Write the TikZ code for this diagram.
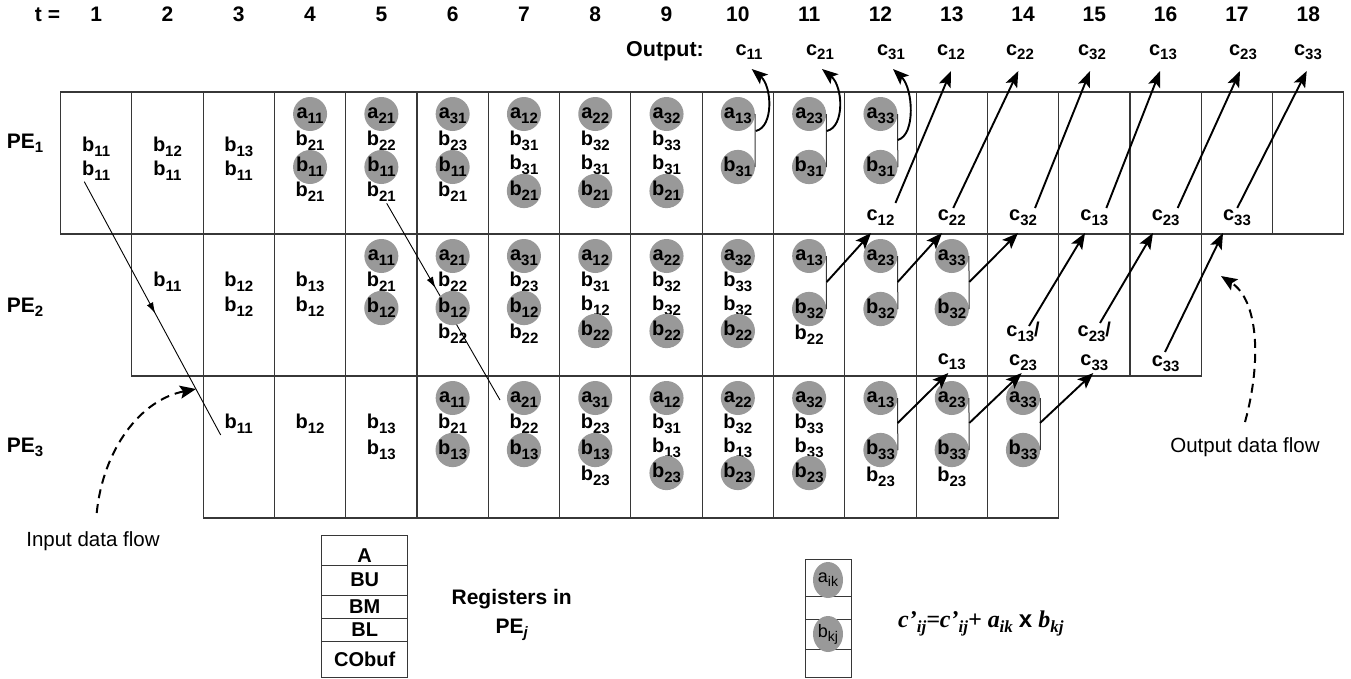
\documentclass[tikz,border=0pt]{standalone}
\usepackage{fontspec}
\setmainfont{Liberation Sans}
\newfontfamily\timesfont{Liberation Serif}
\usetikzlibrary{arrows.meta,decorations.markings}
\definecolor{circgray}{RGB}{153,153,153}
\definecolor{gridgray}{RGB}{55,55,55}
\newcommand{\sbx}[1]{\raisebox{-4.5pt}{\fontsize{15}{16}\selectfont #1}}
\newcommand{\fsub}[1]{\raisebox{-5pt}{\fontsize{17}{18}\selectfont #1}}
\newcommand{\colx}[1]{24.85+71.3*#1}
\newcommand{\tcell}[4]{\node[cell] (#1) at ({\colx{#2}},#3) {#4};}
\newcommand{\ccell}[4]{\node[circ] (#1) at ({\colx{#2}},#3) {#4};}
\newcommand{\bv}[1]{b\sbx{#1}}
\newcommand{\av}[1]{a\sbx{#1}}
\newcommand{\cv}[1]{c\sbx{#1}}
\tikzset{
  cell/.style={inner sep=0pt, text height=14pt, text depth=4.5pt, font=\fontsize{20}{22}\selectfont\bfseries},
  circ/.style={cell, circle, fill=circgray, minimum size=34pt},
  gridline/.style={draw=gridgray, line width=1.1pt},
  lbl/.style={inner sep=0pt, anchor=base, font=\fontsize{21}{23}\selectfont\bfseries},
  olbl/.style={inner sep=0pt, anchor=base, font=\fontsize{20}{22}\selectfont\bfseries},
  bigarrow/.style={draw=black, line width=1.9pt, -{Stealth[length=16pt,width=12.5pt,inset=3.5pt]}},
  bracket/.style={draw=gridgray, line width=1pt},
  thinarrow/.style={draw=black, line width=0.9pt, postaction={decorate}},
  flowarrow/.style={draw=black, line width=2pt, dash pattern=on 9pt off 6pt, -{Stealth[length=16pt,width=13pt,inset=3pt]}},
  flowtext/.style={inner sep=0pt, font=\fontsize{20.5}{24}\selectfont},
  regbox/.style={draw=gridgray, line width=1pt, minimum width=86pt, inner sep=0pt, font=\fontsize{20}{22}\selectfont\bfseries},
  smallbox/.style={draw=gridgray, line width=1pt, minimum width=46pt, inner sep=0pt},
  smallcirc/.style={ellipse, fill=circgray, minimum width=30pt, minimum height=36pt, inner sep=0pt, font=\fontsize{18}{20}\selectfont},
}
\usetikzlibrary{shapes.geometric}
\begin{document}
\begin{tikzpicture}[x=1pt,y=-1pt]
\useasboundingbox (0,0) rectangle (1351,678);
% ---------- grid ----------
\draw[gridline] (60.5,92) rectangle (1343.9,234);
\draw[gridline] (131.8,234) rectangle (1201.3,376);
\draw[gridline] (203.1,376) rectangle (1058.7,518);
\foreach \k in {1,...,17} {\draw[gridline] ({60.5+71.3*\k},92) -- ({60.5+71.3*\k},234);}
\foreach \k in {2,...,15} {\draw[gridline] ({60.5+71.3*\k},234) -- ({60.5+71.3*\k},376);}
\foreach \k in {3,...,13} {\draw[gridline] ({60.5+71.3*\k},376) -- ({60.5+71.3*\k},518);}
% ---------- header ----------
\node[lbl] (tlab) at (47.5,21.7) {t =};
\foreach \k in {1,...,18} {\node[lbl] (h\k) at ({\colx{\k}},21.7) {\k};}
\node[lbl] (pe1) at (25,148) {PE\sbx{1}};
\node[lbl] (pe2) at (25,312) {PE\sbx{2}};
\node[lbl] (pe3) at (25,452) {PE\sbx{3}};
\node[lbl, font=\fontsize{21.5}{23}\selectfont\bfseries] (outlab) at (665,56) {Output:};
\node[olbl] (o11) at (749,55) {\cv{11}};
\node[olbl] (o21) at (820,55) {\cv{21}};
\node[olbl] (o31) at (891,55) {\cv{31}};
\node[olbl] (o12) at (951,55) {\cv{12}};
\node[olbl] (o22) at (1020,55) {\cv{22}};
\node[olbl] (o32) at (1092,55) {\cv{32}};
\node[olbl] (o13) at (1163,55) {\cv{13}};
\node[olbl] (o23) at (1243,55) {\cv{23}};
\node[olbl] (o33) at (1308,55) {\cv{33}};
% ---------- input data lines ----------
\coordinate (in1s) at (84.3,181.7); \coordinate (in1e) at (220.7,435);
\coordinate (in2s) at (386.7,203.3); \coordinate (in2e) at (500,400);
\draw[thinarrow, decoration={markings, mark=at position 0.52 with {\arrow{Latex[length=11pt,width=7pt]}}}] (in1s) -- (in1e);
\draw[thinarrow, decoration={markings, mark=at position 0.43 with {\arrow{Latex[length=11pt,width=7pt]}}}] (in2s) -- (in2e);
% ---------- PE1 ----------
\tcell{p1k1s2}{1}{147}{\bv{11}}
\tcell{p1k1s3}{1}{171}{\bv{11}}
\tcell{p1k2s2}{2}{147}{\bv{12}}
\tcell{p1k2s3}{2}{171}{\bv{11}}
\tcell{p1k3s2}{3}{147}{\bv{13}}
\tcell{p1k3s3}{3}{171}{\bv{11}}
\ccell{p1k4s1}{4}{114}{\av{11}} \tcell{p1k4s2}{4}{141}{\bv{21}} \ccell{p1k4s3}{4}{167}{\bv{11}} \tcell{p1k4s4}{4}{192}{\bv{21}}
\ccell{p1k5s1}{5}{114}{\av{21}} \tcell{p1k5s2}{5}{141}{\bv{22}} \ccell{p1k5s3}{5}{167}{\bv{11}} \tcell{p1k5s4}{5}{192}{\bv{21}}
\ccell{p1k6s1}{6}{114}{\av{31}} \tcell{p1k6s2}{6}{141}{\bv{23}} \ccell{p1k6s3}{6}{167}{\bv{11}} \tcell{p1k6s4}{6}{192}{\bv{21}}
\ccell{p1k7s1}{7}{114}{\av{12}} \tcell{p1k7s2}{7}{141}{\bv{31}} \tcell{p1k7s3}{7}{165}{\bv{31}} \ccell{p1k7s4}{7}{191}{\bv{21}}
\ccell{p1k8s1}{8}{114}{\av{22}} \tcell{p1k8s2}{8}{141}{\bv{32}} \tcell{p1k8s3}{8}{165}{\bv{31}} \ccell{p1k8s4}{8}{191}{\bv{21}}
\ccell{p1k9s1}{9}{114}{\av{32}} \tcell{p1k9s2}{9}{141}{\bv{33}} \tcell{p1k9s3}{9}{165}{\bv{31}} \ccell{p1k9s4}{9}{191}{\bv{21}}
\ccell{p1k10s1}{10}{114}{\av{13}} \ccell{p1k10s3}{10}{167}{\bv{31}}
\ccell{p1k11s1}{11}{114}{\av{23}} \ccell{p1k11s3}{11}{167}{\bv{31}}
\ccell{p1k12s1}{12}{114}{\av{33}} \ccell{p1k12s3}{12}{167}{\bv{31}}
\tcell{p1c12}{12}{216}{\cv{12}}
\tcell{p1c22}{13}{216}{\cv{22}}
\tcell{p1c32}{14}{216}{\cv{32}}
\tcell{p1c13}{15}{216}{\cv{13}}
\tcell{p1c23}{16}{216}{\cv{23}}
\tcell{p1c33}{17}{216}{\cv{33}}
% ---------- PE2 ----------
\tcell{p2k2s2}{2}{282}{\bv{11}}
\tcell{p2k3s2}{3}{282}{\bv{12}} \tcell{p2k3s3}{3}{307}{\bv{12}}
\tcell{p2k4s2}{4}{282}{\bv{13}} \tcell{p2k4s3}{4}{307}{\bv{12}}
\ccell{p2k5s1}{5}{256}{\av{11}} \tcell{p2k5s2}{5}{282}{\bv{21}} \ccell{p2k5s3}{5}{308}{\bv{12}}
\ccell{p2k6s1}{6}{256}{\av{21}} \tcell{p2k6s2}{6}{282}{\bv{22}} \ccell{p2k6s3}{6}{308}{\bv{12}} \tcell{p2k6s4}{6}{334}{\bv{22}}
\ccell{p2k7s1}{7}{256}{\av{31}} \tcell{p2k7s2}{7}{282}{\bv{23}} \ccell{p2k7s3}{7}{308}{\bv{12}} \tcell{p2k7s4}{7}{334}{\bv{22}}
\ccell{p2k8s1}{8}{256}{\av{12}} \tcell{p2k8s2}{8}{282}{\bv{31}} \tcell{p2k8s3}{8}{306}{\bv{12}} \ccell{p2k8s4}{8}{331}{\bv{22}}
\ccell{p2k9s1}{9}{256}{\av{22}} \tcell{p2k9s2}{9}{282}{\bv{32}} \tcell{p2k9s3}{9}{306}{\bv{32}} \ccell{p2k9s4}{9}{331}{\bv{22}}
\ccell{p2k10s1}{10}{256}{\av{32}} \tcell{p2k10s2}{10}{282}{\bv{33}} \tcell{p2k10s3}{10}{306}{\bv{32}} \ccell{p2k10s4}{10}{331}{\bv{22}}
\ccell{p2k11s1}{11}{256}{\av{13}} \ccell{p2k11s3}{11}{309}{\bv{32}} \tcell{p2k11s4}{11}{335}{\bv{22}}
\ccell{p2k12s1}{12}{256}{\av{23}} \ccell{p2k12s3}{12}{309}{\bv{32}}
\ccell{p2k13s1}{13}{256}{\av{33}} \ccell{p2k13s3}{13}{309}{\bv{32}}
\tcell{p2c13}{13}{360}{\cv{13}}
\tcell{p2c13s}{14}{332}{\cv{13}/}
\tcell{p2c23}{14}{361}{\cv{23}}
\tcell{p2c23s}{15}{332}{\cv{23}/}
\tcell{p2c33}{15}{361}{\cv{33}}
\tcell{p2c33b}{16}{362}{\cv{33}}
% ---------- PE3 ----------
\tcell{p3k3s2}{3}{424}{\bv{11}}
\tcell{p3k4s2}{4}{424}{\bv{12}}
\tcell{p3k5s2}{5}{424}{\bv{13}} \tcell{p3k5s3}{5}{450}{\bv{13}}
\ccell{p3k6s1}{6}{398}{\av{11}} \tcell{p3k6s2}{6}{424}{\bv{21}} \ccell{p3k6s3}{6}{450}{\bv{13}}
\ccell{p3k7s1}{7}{398}{\av{21}} \tcell{p3k7s2}{7}{424}{\bv{22}} \ccell{p3k7s3}{7}{450}{\bv{13}}
\ccell{p3k8s1}{8}{398}{\av{31}} \tcell{p3k8s2}{8}{424}{\bv{23}} \ccell{p3k8s3}{8}{450}{\bv{13}} \tcell{p3k8s4}{8}{476}{\bv{23}}
\ccell{p3k9s1}{9}{398}{\av{12}} \tcell{p3k9s2}{9}{424}{\bv{31}} \tcell{p3k9s3}{9}{448}{\bv{13}} \ccell{p3k9s4}{9}{473}{\bv{23}}
\ccell{p3k10s1}{10}{398}{\av{22}} \tcell{p3k10s2}{10}{424}{\bv{32}} \tcell{p3k10s3}{10}{448}{\bv{13}} \ccell{p3k10s4}{10}{473}{\bv{23}}
\ccell{p3k11s1}{11}{398}{\av{32}} \tcell{p3k11s2}{11}{424}{\bv{33}} \tcell{p3k11s3}{11}{448}{\bv{33}} \ccell{p3k11s4}{11}{473}{\bv{23}}
\ccell{p3k12s1}{12}{398}{\av{13}} \ccell{p3k12s3}{12}{450}{\bv{33}} \tcell{p3k12s4}{12}{477}{\bv{23}}
\ccell{p3k13s1}{13}{398}{\av{23}} \ccell{p3k13s3}{13}{450}{\bv{33}} \tcell{p3k13s4}{13}{477}{\bv{23}}
\ccell{p3k14s1}{14}{398}{\av{33}} \ccell{p3k14s3}{14}{450}{\bv{33}}
% ---------- brackets ----------
\draw[bracket] (p1k10s1.east) -- (p1k10s3.east);
\draw[bracket] (p1k11s1.east) -- (p1k11s3.east);
\draw[bracket] (p1k12s1.east) -- (p1k12s3.east);
\draw[bracket] (p2k11s1.east) -- (p2k11s3.east);
\draw[bracket] (p2k12s1.east) -- (p2k12s3.east);
\draw[bracket] (p2k13s1.east) -- (p2k13s3.east);
\draw[bracket] (p3k12s1.east) -- (p3k12s3.east);
\draw[bracket] (p3k13s1.east) -- (p3k13s3.east);
\draw[bracket] (p3k14s1.east) -- (p3k14s3.east);
% ---------- output arrows from PE1 ----------
\coordinate (q10) at (755.7,131); \coordinate (t11) at (751.7,69);
\coordinate (q11) at (826.7,131); \coordinate (t21) at (822,69);
\coordinate (q12) at (897.7,140); \coordinate (t31) at (893,69);
\draw[bigarrow] (q10) .. controls (774,127) and (772,86) .. (t11);
\draw[bigarrow] (q11) .. controls (845,127) and (843,86) .. (t21);
\draw[bigarrow] (q12) .. controls (916,135) and (913,88) .. (t31);
\coordinate (t12) at (951,71); \coordinate (t22) at (1018.3,71);
\coordinate (t32) at (1090,71); \coordinate (t13) at (1160,71);
\coordinate (t23) at (1240,71); \coordinate (t33) at (1306.7,71);
\draw[bigarrow] ([shift={(15,-13)}]p1c12.center) -- (t12);
\draw[bigarrow] ([shift={(1.5,-8)}]p1c22.center) -- (t22);
\draw[bigarrow] ([shift={(12,-8)}]p1c32.center) -- (t32);
\draw[bigarrow] ([shift={(12,-8)}]p1c13.center) -- (t13);
\draw[bigarrow] ([shift={(12,-8)}]p1c23.center) -- (t23);
\draw[bigarrow] ([shift={(0.3,-8)}]p1c33.center) -- (t33);
% ---------- arrows PE2 -> PE1 ----------
\coordinate (u11) at (826.7,282); \coordinate (v12) at (871,233);
\coordinate (u12) at (897.7,282); \coordinate (v22) at (942,233);
\coordinate (u13) at (969.3,282); \coordinate (v32) at (1018,233);
\coordinate (u14) at (1029,326); \coordinate (v13) at (1085,233);
\coordinate (u15) at (1100,323); \coordinate (v23) at (1153,233);
\coordinate (u16) at (1165,352); \coordinate (v33) at (1223,233);
\draw[bigarrow] (u11) -- (v12);
\draw[bigarrow] (u12) -- (v22);
\draw[bigarrow] (u13) -- (v32);
\draw[bigarrow] (u14) -- (v13);
\draw[bigarrow] (u15) -- (v23);
\draw[bigarrow] (u16) -- (v33);
% ---------- arrows PE3 -> PE2 ----------
\coordinate (w12) at (897.7,423); \coordinate (x13) at (948.3,373);
\coordinate (w13) at (969.3,423); \coordinate (x23) at (1021.7,373);
\coordinate (w14) at (1040,423); \coordinate (x33) at (1093.3,373);
\draw[bigarrow] (w12) -- (x13);
\draw[bigarrow] (w13) -- (x23);
\draw[bigarrow] (w14) -- (x33);
% ---------- data flow labels ----------
\coordinate (ifs) at (96.7,513); \coordinate (ife) at (196,389);
\draw[flowarrow] (ifs) .. controls (103,450) and (140,400) .. (ife);
\node[flowtext] (inflow) at (93,541) {Input data flow};
\coordinate (ofs) at (1245,422); \coordinate (ofe) at (1221,276);
\draw[flowarrow] (ofs) .. controls (1262,360) and (1258,300) .. (ofe);
\node[flowtext] (outflow) at (1245,447) {Output data flow};
% ---------- registers ----------
\node[regbox, minimum height=30pt, text height=24pt, text depth=0pt] (rA) at (364.7,550) {A};
\node[regbox, minimum height=30pt] (rBU) at (364.7,580) {BU};
\node[regbox, minimum height=23.3pt] (rBM) at (364.7,606.65) {BM};
\node[regbox, minimum height=23.4pt] (rBL) at (364.7,630) {BL};
\node[regbox, minimum height=35.3pt] (rCO) at (364.7,659.35) {CObuf};
\node[lbl] (regt1) at (511.7,604) {Registers in};
\node[lbl] (regt2) at (511.7,633) {PE\sbx{\itshape j}};
% ---------- formula box ----------
\node[smallbox, minimum height=37pt] (f1) at (828,577.5) {};
\node[smallbox, minimum height=23pt] (f2) at (828,607.5) {};
\node[smallbox, minimum height=30pt] (f3) at (828,634) {};
\node[smallbox, minimum height=28pt] (f4) at (828,663) {};
\node[smallcirc] (faik) at (828,580) {a\raisebox{-4pt}{\fontsize{14}{15}\selectfont ik}};
\node[smallcirc] (fbkj) at (828,634) {b\raisebox{-4pt}{\fontsize{14}{15}\selectfont kj}};
\node[anchor=base west, inner sep=0pt, font=\timesfont\bfseries\itshape\fontsize{24}{26}\selectfont] (formula) at (898,627) {c’\fsub{ij}=c’\fsub{ij}+ a\fsub{ik} {\normalfont\bfseries x} b\fsub{kj}};
\end{tikzpicture}
\end{document}
